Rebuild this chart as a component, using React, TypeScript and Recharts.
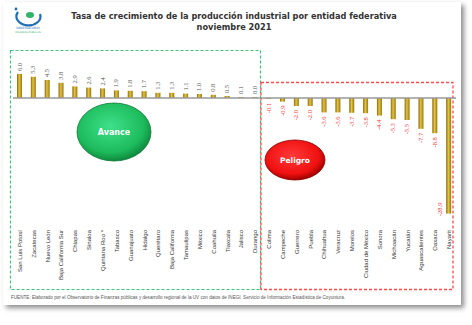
import { BarChart, Bar, XAxis, YAxis, ReferenceLine, LabelList } from 'recharts';

const estados = [
  'San Luis Potosí', 'Zacatecas', 'Nuevo León', 'Baja California Sur', 'Chiapas', 'Sinaloa',
  'Quintana Roo *', 'Tabasco', 'Guanajuato', 'Hidalgo', 'Querétaro', 'Baja California',
  'Tamaulipas', 'México', 'Coahuila', 'Tlaxcala', 'Jalisco', 'Durango',
  'Colima', 'Campeche', 'Guerrero', 'Puebla', 'Chihuahua', 'Veracruz', 'Morelos',
  'Ciudad de México', 'Sonora', 'Michoacán', 'Yucatán', 'Aguascalientes', 'Oaxaca', 'Nayarit',
];

const tasas = [
  6.0, 5.3, 4.5, 3.8, 2.9, 2.6, 2.4, 1.9, 1.8, 1.7, 1.3, 1.3, 1.1, 1.0, 0.8, 0.5, 0.1, 0.0,
  -0.1, -0.9, -2.0, -2.0, -3.6, -3.6, -3.7, -3.8, -4.4, -5.3, -5.5, -7.7, -8.8, -28.9,
];

const data = estados.map((estado, i) => ({ estado, tasa: tasas[i] }));

const W = 472;
const H = 325;

// category names, rotated, hanging below the plot
const EstadoTick = (props: any) => {
  const { x, y, payload } = props;
  return (
    <text
      x={x + 2}
      y={y + 4}
      transform={`rotate(-90 ${x + 2} ${y + 4})`}
      textAnchor="end"
      fontSize={6}
      fontFamily="Liberation Sans, sans-serif"
      fill="#333"
    >
      {payload.value}
    </text>
  );
};

// value labels: above positive bars, below negative ones (red)
const renderValor = (props: any) => {
  const { x, y, width, height, value } = props;
  const cx = x + width / 2 + 2;
  const top = Math.min(y, y + height);
  const bottom = Math.max(y, y + height);
  const txt = value.toFixed(1);
  if (value >= 0) {
    const ly = top - 3;
    return (
      <text x={cx} y={ly} transform={`rotate(-90 ${cx} ${ly})`} textAnchor="start"
        fontSize={6.5} fontFamily="Liberation Serif, serif" fill="#555">
        {txt}
      </text>
    );
  }
  if (value < -20) {
    const lx = x - 4;
    const ly = bottom - 11;
    return (
      <text x={lx} y={ly} transform={`rotate(-90 ${lx} ${ly})`} textAnchor="end"
        fontSize={6.5} fontFamily="Liberation Serif, serif" fill="#ff3030">
        {txt}
      </text>
    );
  }
  const ly = bottom + 4;
  return (
    <text x={cx} y={ly} transform={`rotate(-90 ${cx} ${ly})`} textAnchor="end"
      fontSize={6.5} fontFamily="Liberation Serif, serif" fill="#ff3030">
      {txt}
    </text>
  );
};

function Decoracion() {
  return (
    <svg width={W} height={H} style={{ position: 'absolute', left: 0, top: 0 }}>
      <defs>
        <radialGradient id="gVerde" cx="45%" cy="40%" r="60%">
          <stop offset="0%" stopColor="#3ee08a" />
          <stop offset="75%" stopColor="#1dbb5c" />
          <stop offset="100%" stopColor="#0f8a3e" />
        </radialGradient>
        <radialGradient id="gRojo" cx="45%" cy="40%" r="60%">
          <stop offset="0%" stopColor="#ff3a3a" />
          <stop offset="75%" stopColor="#f01010" />
          <stop offset="100%" stopColor="#a00000" />
        </radialGradient>
      </defs>

      {/* logo */}
      <path d="M18 12 A12 9 0 1 0 40 14" fill="none" stroke="#1f6fb5" strokeWidth={2.2} />
      <ellipse cx={30} cy={15} rx={4} ry={3} fill="#2fb36a" />
      <circle cx={16} cy={9} r={1.4} fill="#1f6fb5" />
      <text x={28} y={29} textAnchor="middle" fontSize={3} fill="#1f6fb5" fontFamily="DejaVu Sans">
        OBSERVATORIO
      </text>
      <text x={28} y={32.5} textAnchor="middle" fontSize={2.5} fill="#2fb36a" fontFamily="DejaVu Sans">
        FINANZAS PÚBLICAS
      </text>

      {/* title */}
      <text x={234} y={19} textAnchor="middle" fontSize={8.2} fontWeight="bold"
        fontFamily="DejaVu Sans, sans-serif" fill="#333">
        Tasa de crecimiento de la producción industrial por entidad federativa
      </text>
      <text x={234} y={30} textAnchor="middle" fontSize={8.2} fontWeight="bold"
        fontFamily="DejaVu Sans, sans-serif" fill="#333">
        noviembre 2021
      </text>

      {/* dashed boxes */}
      <rect x={10.5} y={50.5} width={250} height={239} fill="none" stroke="#3cc47a"
        strokeWidth={1.2} strokeDasharray="3 2" />
      <rect x={261} y={82.5} width={192} height={207} fill="none" stroke="#ff4a4a"
        strokeWidth={1.3} strokeDasharray="3 2" />

      {/* bubbles */}
      <ellipse cx={114} cy={132} rx={37} ry={29} fill="url(#gVerde)" stroke="#0d7a36" strokeWidth={0.8} />
      <text x={114} y={135} textAnchor="middle" fontSize={8} fontWeight="bold"
        fontFamily="DejaVu Sans, sans-serif" fill="#fff">
        Avance
      </text>
      <ellipse cx={295} cy={160} rx={30} ry={20} fill="url(#gRojo)" stroke="#8a0000" strokeWidth={0.8} />
      <text x={295} y={163} textAnchor="middle" fontSize={7.5} fontWeight="bold"
        fontFamily="DejaVu Sans, sans-serif" fill="#fff">
        Peligro
      </text>

      {/* source */}
      <text x={11} y={299} fontSize={4.6} fontFamily="Liberation Sans, sans-serif" fill="#555">
        FUENTE: Elaborado por el Observatorio de Finanzas públicas y desarrollo regional de la UV con datos de INEGI. Servicio de Información Estadística de Coyuntura.
      </text>
    </svg>
  );
}

export default function App() {
  return (
    <div style={{ position: 'absolute', left: 0, top: 0, width: W, height: H, background: '#fff' }}>
      <div
        style={{
          position: 'absolute', left: 3, top: 2, width: 458, height: 303,
          background: '#fff', boxShadow: '3px 3px 5px rgba(0,0,0,0.45)',
        }}
      />
      <Decoracion />
      <div style={{ position: 'absolute', left: 0, top: 0 }}>
        <BarChart
          width={W}
          height={H}
          data={data}
          margin={{ top: 66, right: 16, bottom: 47, left: 13 }}
          barCategoryGap={0}
        >
          <defs>
            <linearGradient id="oro" x1="0" y1="0" x2="1" y2="0">
              <stop offset="0%" stopColor="#8a6a00" />
              <stop offset="45%" stopColor="#e3c24a" />
              <stop offset="100%" stopColor="#9a7800" />
            </linearGradient>
          </defs>
          <XAxis
            dataKey="estado"
            interval={0}
            height={60}
            axisLine={false}
            tickLine={false}
            tick={<EstadoTick />}
          />
          <YAxis hide domain={[-30, 8]} />
          <ReferenceLine y={0} stroke="#999" strokeWidth={1.5} />
          <Bar dataKey="tasa" fill="url(#oro)" barSize={5} minPointSize={1} isAnimationActive={false}>
            <LabelList dataKey="tasa" content={renderValor} />
          </Bar>
        </BarChart>
      </div>
    </div>
  );
}
